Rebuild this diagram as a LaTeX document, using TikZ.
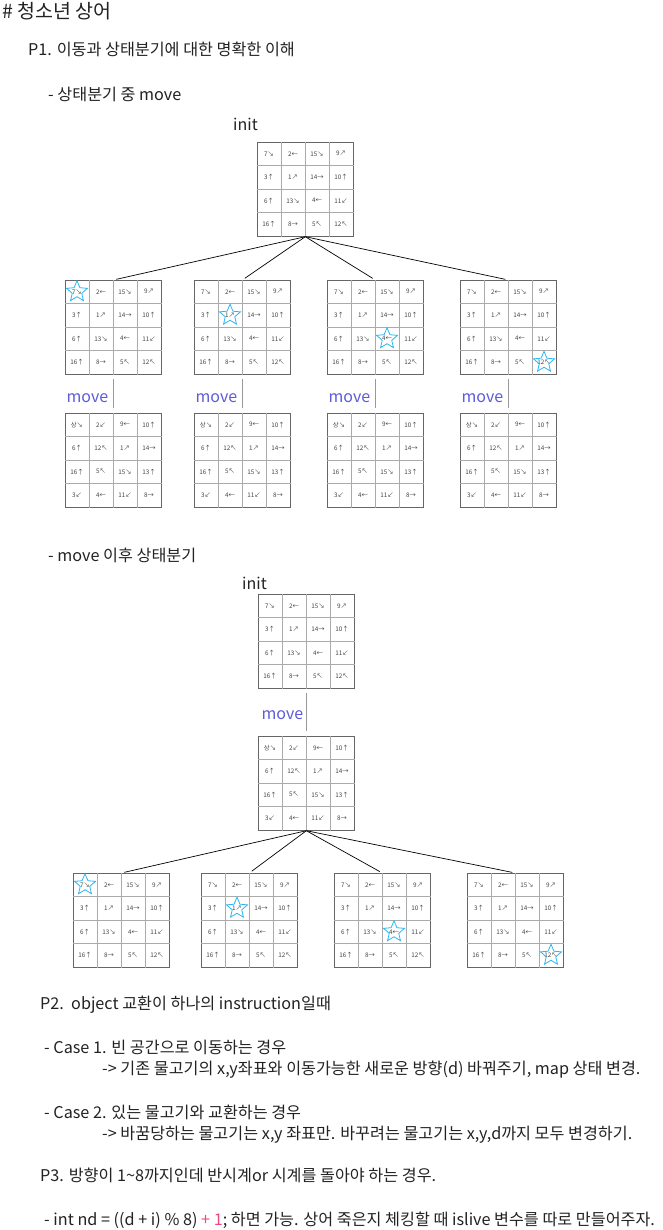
\documentclass[tikz,border=0pt]{standalone}
\usepackage{fontspec}
\setmainfont{Noto Sans CJK KR}
\usetikzlibrary{positioning,calc,shapes.geometric}
\definecolor{cInk}{HTML}{222222}
\definecolor{cMove}{HTML}{5B5BDB}
\definecolor{cStar}{HTML}{2BB5F2}
\definecolor{cPink}{HTML}{EC4A7F}
\definecolor{cGridDark}{HTML}{666666}
\definecolor{cGridLight}{HTML}{AAAAAA}
\tikzset{
  mapbox/.style={draw=cGridDark, line width=0.7pt, minimum width=96pt, minimum height=94pt,
    inner sep=0pt, anchor=north west},
  cell/.style={font=\fontsize{6.3}{7}\selectfont, text=cInk!85, inner sep=0pt},
  gridline/.style={draw=cGridLight, line width=0.6pt},
  fishstar/.style={star, star points=5, star point ratio=2.2, draw=cStar, line width=0.8pt,
    minimum size=22pt, inner sep=0pt},
  branch/.style={draw=black, line width=0.7pt, shorten >=3pt},
  moveline/.style={draw=gray!80, line width=1.3pt, shorten <=4pt, shorten >=5pt},
  movelbl/.style={font=\fontsize{16}{18}\selectfont, text=cMove, anchor=base east, inner sep=0pt},
  heading/.style={anchor=base west, inner sep=0pt, text=cInk, font=\fontsize{16.2}{18}\selectfont},
}
\newcommand{\initfish}{7↘,2←,15↘,9↗,3↑,1↗,14→,10↑,6↑,13↘,4←,11↙,16↑,8→,5↖,12↖}
\newcommand{\movedfish}{상↘,2↙,9←,10↑,6↑,12↖,1↗,14→,16↑,5↖,15↘,13↑,3↙,4←,11↙,8→}
% 4x4 map: name, left, top, contents
\newcommand{\fishmap}[4]{%
  \node[mapbox] (#1) at (#2,#3) {};
  \foreach \i in {1,2,3} {
    \draw[gridline] ($(#1.north west)+(\i*24,0)$) -- ($(#1.south west)+(\i*24,0)$);
    \draw[gridline] ($(#1.north west)+(0,\i*23.5)$) -- ($(#1.north east)+(0,\i*23.5)$);
  }
  \foreach \txt [count=\k from 0] in #4 {
    \pgfmathtruncatemacro{\rr}{\k/4}
    \pgfmathtruncatemacro{\cc}{\k-4*\rr}
    \node[cell] (#1-\k) at ($(#1.north west)+(\cc*24+12,\rr*23.5+11.75)$) {\txt};
  }
}

\begin{document}
\begin{tikzpicture}[x=1pt, y=-1pt]
  \useasboundingbox (0,0) rectangle (662,1230);

  % ---------- headings ----------
  \node[heading, font=\fontsize{19.5}{21}\selectfont] (title) at (2,19) {\# 청소년 상어};
  \node[heading] (p1) at (28,56) {P1. 이동과 상태분기에 대한 명확한 이해};
  \node[heading] (p1a) at (48,101) {- 상태분기 중 move};
  \node[heading, font=\fontsize{16}{18}\selectfont] (init1lbl) at (233,131) {init};

  % ---------- P1: branch then move ----------
  \fishmap{init1}{257}{142}{\initfish}
  \foreach \nm/\x/\s in {A/65/0, B/194/5, C/327/10, D/460/15} {
    \fishmap{lv\nm}{\x}{280}{\initfish}
    \node[fishstar] (star\nm) at (lv\nm-\s) {};
    \fishmap{mv\nm}{\x}{413}{\movedfish}
    \draw[branch] (init1.south) -- (lv\nm.north);
    \draw[moveline] (lv\nm.south) -- (mv\nm.north);
    \node[movelbl] (mvlbl\nm) at ($(lv\nm.south)+(-5,28)$) {move};
  }

  % ---------- P1: move then branch ----------
  \node[heading] (p1b) at (48,561) {- move 이후 상태분기};
  \node[heading, font=\fontsize{16}{18}\selectfont] (init2lbl) at (242,589) {init};
  \fishmap{init2}{258}{594}{\initfish}
  \fishmap{mv2}{258}{736}{\movedfish}
  \draw[moveline] (init2.south) -- (mv2.north);
  \node[movelbl] (mvlbl2) at ($(init2.south)+(-3,31)$) {move};
  \foreach \nm/\x/\s in {A/73/0, B/201/5, C/334/10, D/467/15} {
    \fishmap{bt\nm}{\x}{873}{\initfish}
    \node[fishstar] (btstar\nm) at (bt\nm-\s) {};
    \draw[branch] (mv2.south) -- (bt\nm.north);
  }

  % ---------- P2 / P3 notes ----------
  \node[heading] (p2) at (40,1009) {P2.\ \ object 교환이 하나의 instruction일때};
  \node[heading] (c1) at (44,1053) {- Case 1. 빈 공간으로 이동하는 경우};
  \node[heading] (c1a) at (102,1074) {-> 기존 물고기의 x,y좌표와 이동가능한 새로운 방향(d) 바꿔주기, map 상태 변경.};
  \node[heading] (c2) at (44,1118) {- Case 2. 있는 물고기와 교환하는 경우};
  \node[heading] (c2a) at (102,1139) {-> 바꿈당하는 물고기는 x,y 좌표만. 바꾸려는 물고기는 x,y,d까지 모두 변경하기.};
  \node[heading] (p3) at (40,1181) {P3. 방향이 1\textasciitilde 8까지인데 반시계or 시계를 돌아야 하는 경우.};
  \node[heading] (p3a) at (44,1225) {- int nd = ((d + i) \% 8) {\color{cPink}+ 1}; 하면 가능. 상어 죽은지 체킹할 때 islive 변수를 따로 만들어주자.};

\end{tikzpicture}
\end{document}
